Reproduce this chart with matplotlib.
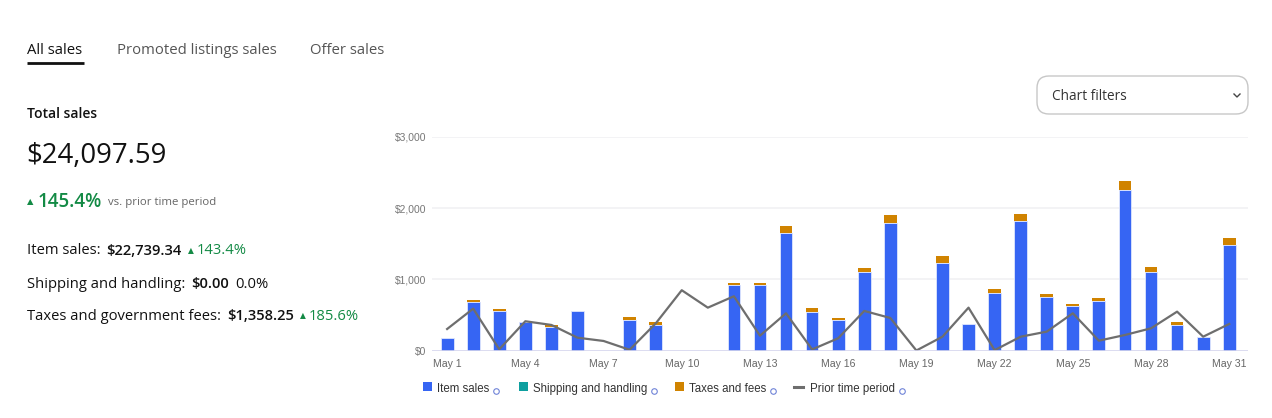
import numpy as np
import matplotlib.pyplot as plt
from matplotlib.patches import FancyBboxPatch, Rectangle

W, H = 1272, 418

days = ["May %d" % d for d in range(1, 32)]
item_sales = [170, 680, 560, 395, 325, 560, 0, 435, 365, 0, 0, 920, 915, 1655, 545, 435,
              1105, 1795, 0, 1230, 370, 810, 1820, 745, 620, 695, 2250, 1105, 365, 185, 1480]
shipping = [0] * 31
taxes = [0, 30, 22, 10, 35, 0, 0, 35, 38, 0, 0, 28, 32, 98, 56, 22,
         52, 108, 0, 98, 0, 52, 98, 52, 38, 38, 132, 75, 38, 0, 102]
prior = [302, 588, 17, 411, 359, 180, 134, 10, 380, 847, 602, 762, 208, 523, 15, 172,
         556, 457, 0, 194, 602, 5, 194, 265, 523, 138, 218, 312, 546, 194, 373]
y_ticks = [0, 1000, 2000, 3000]
y_labels = ["$0", "$1,000", "$2,000", "$3,000"]
tick_every = 3

BLUE = "#3665f3"
TEAL = "#0e9f9f"
ORANGE = "#d08300"
GRAY = "#6e6e6e"
GREEN = "#138a45"

fig = plt.figure(figsize=(W / 100, H / 100), dpi=100)
fig.patch.set_facecolor("white")

# overlay in pixel coordinates for the page texts
ov = fig.add_axes([0, 0, 1, 1])
ov.set_xlim(0, W)
ov.set_ylim(H, 0)
ov.axis("off")
ov.patch.set_visible(False)

UI = ["Open Sans", "DejaVu Sans"]
CH = ["Liberation Sans", "DejaVu Sans"]
renderer = fig.canvas.get_renderer()


def put(x, y, s, size, color="#111111", weight="normal", family=UI, gap=0):
    t = ov.text(x, y, s, fontsize=size, color=color, fontweight=weight,
                family=family, va="center", ha="left")
    bb = t.get_window_extent(renderer)
    return bb.x1 + gap


# tabs
put(27, 51, "All sales", 10.7, "#111111")
ov.plot([27, 84], [63, 63], color="#111111", lw=2, solid_capstyle="butt")
put(117, 51, "Promoted listings sales", 10.7, "#555555")
put(310, 51, "Offer sales", 10.7, "#555555")

# summary
put(27, 114, "Total sales", 10, "#111111", "semibold")
put(26, 156, "$24,097.59", 19.8, "#111111")
x = put(27, 203, "▲", 6, GREEN, gap=4)
x = put(x, 202, "145.4%", 13.5, GREEN, "semibold", gap=6)
put(x, 203, "vs. prior time period", 8.2, "#666666")

FS = 10.6
x = put(27, 251, "Item sales:", FS, "#111111", gap=6)
x = put(x, 251, "$22,739.34", FS, "#111111", "semibold", gap=6)
x = put(x, 252, "▲", 5.5, GREEN, gap=3)
put(x, 251, "143.4%", FS, GREEN)

x = put(27, 284, "Shipping and handling:", FS, "#111111", gap=6)
x = put(x, 284, "$0.00", FS, "#111111", "semibold", gap=6)
put(x, 284, "0.0%", FS, "#111111")

x = put(27, 316, "Taxes and government fees:", FS, "#111111", gap=6)
x = put(x, 316, "$1,358.25", FS, "#111111", "semibold", gap=6)
x = put(x, 317, "▲", 5.5, GREEN, gap=3)
put(x, 316, "185.6%", FS, GREEN)

# chart filters button
ov.add_patch(FancyBboxPatch((1037, 76), 211, 38, boxstyle="round,pad=0,rounding_size=12",
                            fc="white", ec="#c7c7c7", lw=1))
put(1052, 96, "Chart filters", 9.8, "#333333")
ov.plot([1234, 1237, 1240], [94, 97, 94], color="#444444", lw=1)

# legend
lx = [423, 519, 675]
lcol = [BLUE, TEAL, ORANGE]
lname = ["Item sales", "Shipping and handling", "Taxes and fees"]
for px, c, name in zip(lx, lcol, lname):
    ov.add_patch(Rectangle((px, 382), 9, 9, fc=c, ec="none"))
    xe = put(px + 14, 389, name, 8.3, "#333333", family=CH, gap=5)
    ov.plot([xe + 2], [390.5], marker="o", ms=4, mfc="none", mec="#6f83d8", mew=0.8)
ov.plot([794, 803], [387, 387], color=GRAY, lw=2.2)
xe = put(810, 389, "Prior time period", 8.3, "#333333", family=CH, gap=5)
ov.plot([xe + 2], [390.5], marker="o", ms=4, mfc="none", mec="#6f83d8", mew=0.8)

# chart
ax = fig.add_axes([432 / W, 1 - 350.5 / H, (1248 - 432) / W, (350.5 - 137) / H])
idx = np.arange(len(days))
ax.bar(idx, item_sales, width=0.49, color=BLUE, edgecolor="#dfe6fd", linewidth=0.6, zorder=3)
ax.bar(idx, shipping, width=0.49, bottom=item_sales, color=TEAL, zorder=3)
bottom2 = np.array(item_sales) + np.array(shipping)
ax.bar(idx, taxes, width=0.49, bottom=bottom2, color=ORANGE, zorder=3)
ax.plot(idx, prior, color=GRAY, lw=1.6, zorder=4)

ax.set_xlim(-0.58, 30.72)
ax.set_ylim(0, 3000)
ax.set_yticks(y_ticks)
ax.set_yticklabels(y_labels, family=CH, fontsize=7.4, color="#777777")
ax.set_xticks(idx[::tick_every])
ax.set_xticklabels(days[::tick_every], family=CH, fontsize=7.6, color="#666666")
ax.tick_params(length=0, pad=6)
ax.tick_params(axis="y", pad=4)
for v in y_ticks[1:]:
    ax.axhline(v, color="#f1f1f4", lw=1.2, zorder=1)
ax.axhline(0, color="#d6d6ee", lw=1.2, zorder=5)
for s in ax.spines.values():
    s.set_visible(False)
ax.patch.set_visible(False)

fig.savefig("out.png", dpi=100, facecolor="white")
